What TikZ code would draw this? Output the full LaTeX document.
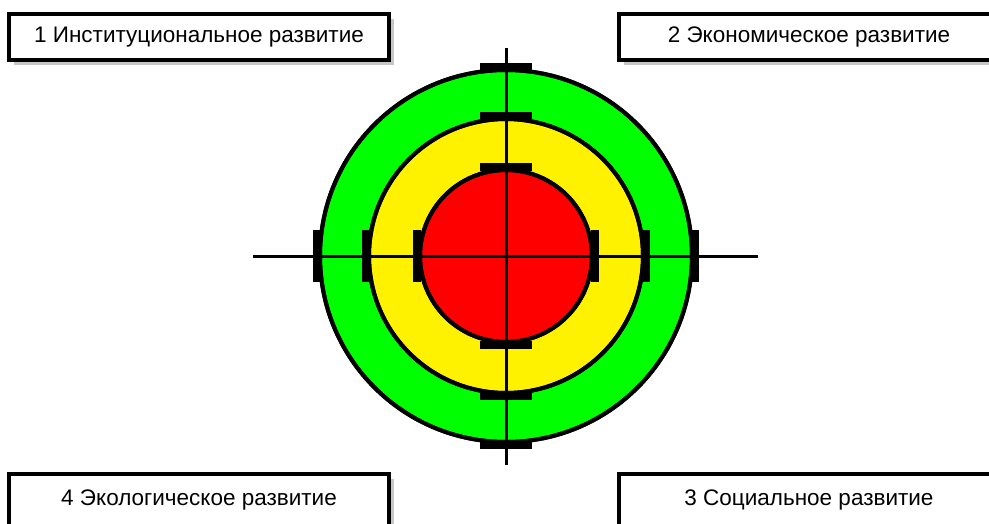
\documentclass[tikz,border=0pt]{standalone}
\usepackage{fontspec}
\setmainfont{Liberation Sans}
\usetikzlibrary{shadows,calc}
\begin{document}
\begin{tikzpicture}[x=1pt,y=-1pt,
  lbox/.style={draw=black, line width=4pt, fill=white, minimum width=380pt, minimum height=46pt,
    inner sep=0pt, font=\fontsize{22.5}{24}\selectfont,
    drop shadow={shadow xshift=5pt, shadow yshift=-5pt, fill=black!22, opacity=1}},
  ring/.style={draw=black, line width=4pt},
  tick/.style={fill=black},
  cross/.style={draw=black, line width=3pt}]
\useasboundingbox (0,0) rectangle (989,523);
\coordinate (c) at (506,256);
% rings
\fill[green, ring] (c) circle[radius=186];
\fill[yellow, ring] (c) circle[radius=137];
\fill[red, ring] (c) circle[radius=86];
\draw[ring] (c) circle[radius=186];
\draw[ring] (c) circle[radius=137];
\draw[ring] (c) circle[radius=86];
% ticks
\foreach \r in {86,137,186}{
  \fill[tick] ($(c)+(-26,-\r-7)$) rectangle ($(c)+(26,-\r+1)$);
  \fill[tick] ($(c)+(-26,\r-1)$) rectangle ($(c)+(26,\r+7)$);
  \fill[tick] ($(c)+(-\r-7,-26)$) rectangle ($(c)+(-\r+1,26)$);
  \fill[tick] ($(c)+(\r-1,-26)$) rectangle ($(c)+(\r+7,26)$);
}
% crosshair
\coordinate (hl) at (253,256);
\coordinate (hr) at (758,256);
\coordinate (vt) at (506,48);
\coordinate (vb) at (506,465);
\draw[cross] (hl) -- (hr);
\draw[cross] (vt) -- (vb);
% labels
\node[lbox] (b1) at (199,37) {1 Институциональное развитие};
\node[lbox] (b2) at (809,37) {2 Экономическое развитие};
\node[lbox, minimum height=52pt] (b4) at (199,500) {4 Экологическое развитие};
\node[lbox, minimum height=52pt] (b3) at (809,500) {3 Социальное развитие};
\end{tikzpicture}
\end{document}
